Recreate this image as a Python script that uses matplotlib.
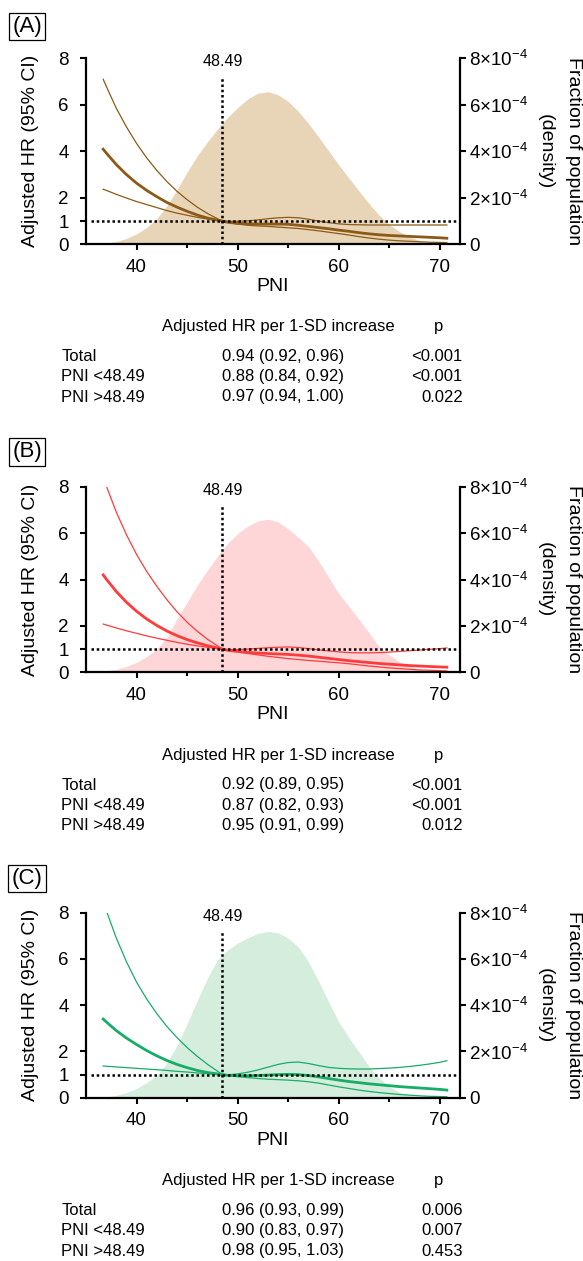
import matplotlib
matplotlib.use("Agg")
import matplotlib.pyplot as plt
from matplotlib.ticker import FixedLocator, FuncFormatter

plt.rcParams['font.family'] = ['Liberation Sans', 'DejaVu Sans']
plt.rcParams['mathtext.default'] = 'regular'

# spline curves (adjusted HR with 95% CI)
pni = [36.7, 37, 38, 39, 40, 41, 42, 43, 44, 45, 46, 47, 48, 48.49,
       49, 50, 51, 52, 53, 54, 55, 56, 57, 58, 59, 60, 61, 62, 63, 64,
       65, 66, 67, 68, 69, 70, 70.7]

a_hr = [4.09, 3.93, 3.43, 3.0, 2.63, 2.32, 2.05, 1.8, 1.6, 1.42, 1.26, 1.13, 1.04, 1.0,
        0.95, 0.9, 0.88, 0.87, 0.87, 0.87, 0.86, 0.82, 0.77, 0.72, 0.67, 0.61, 0.56,
        0.5, 0.45, 0.41, 0.38, 0.36, 0.34, 0.32, 0.3, 0.28, 0.26]
a_hi = [7.1, 6.8, 5.85, 5.05, 4.34, 3.72, 3.18, 2.7, 2.28, 1.92, 1.6, 1.33, 1.1, 1.0,
        0.99, 0.99, 1.01, 1.05, 1.1, 1.14, 1.16, 1.14, 1.08, 1.0, 0.93, 0.88, 0.85,
        0.84, 0.83, 0.83, 0.83, 0.83, 0.83, 0.83, 0.83, 0.83, 0.83]
a_lo = [2.37, 2.32, 2.15, 1.99, 1.84, 1.71, 1.58, 1.45, 1.34, 1.25, 1.16, 1.09, 1.03, 1.0,
        0.95, 0.87, 0.82, 0.79, 0.77, 0.74, 0.71, 0.68, 0.63, 0.58, 0.52, 0.46, 0.4,
        0.33, 0.27, 0.22, 0.18, 0.15, 0.13, 0.11, 0.09, 0.08, 0.07]

b_hr = [4.2, 4.02, 3.48, 3.02, 2.63, 2.3, 2.02, 1.78, 1.58, 1.41, 1.27, 1.15, 1.05, 1.0,
        0.95, 0.9, 0.86, 0.83, 0.81, 0.79, 0.77, 0.74, 0.7, 0.65, 0.6, 0.55, 0.5,
        0.46, 0.42, 0.38, 0.35, 0.32, 0.29, 0.27, 0.25, 0.23, 0.22]
b_hi = [8.4, 8.04, 6.9, 5.93, 5.08, 4.35, 3.71, 3.13, 2.61, 2.16, 1.77, 1.43, 1.14, 1.0,
        0.98, 0.98, 1.0, 1.03, 1.06, 1.08, 1.09, 1.07, 1.02, 0.97, 0.92, 0.88, 0.85,
        0.84, 0.84, 0.85, 0.87, 0.9, 0.93, 0.96, 0.99, 1.02, 1.05]
b_lo = [2.08, 2.04, 1.91, 1.79, 1.68, 1.57, 1.47, 1.38, 1.29, 1.21, 1.14, 1.08, 1.02, 1.0,
        0.95, 0.88, 0.81, 0.75, 0.69, 0.64, 0.59, 0.55, 0.51, 0.48, 0.44, 0.41, 0.37,
        0.32, 0.27, 0.23, 0.19, 0.16, 0.13, 0.1, 0.09, 0.07, 0.06]

c_hr = [3.4, 3.28, 2.9, 2.58, 2.3, 2.04, 1.81, 1.61, 1.44, 1.3, 1.18, 1.09, 1.03, 1.0,
        0.97, 0.95, 0.95, 0.96, 0.98, 1.0, 1.01, 1.0, 0.96, 0.9, 0.83, 0.76, 0.7,
        0.65, 0.6, 0.56, 0.52, 0.48, 0.45, 0.42, 0.39, 0.36, 0.33]
c_hi = [8.5, 8.1, 6.9, 5.88, 5.0, 4.27, 3.64, 3.08, 2.6, 2.17, 1.79, 1.45, 1.15, 1.0,
        0.99, 1.03, 1.1, 1.2, 1.32, 1.44, 1.52, 1.54, 1.48, 1.39, 1.31, 1.27, 1.25,
        1.24, 1.24, 1.26, 1.28, 1.31, 1.35, 1.4, 1.46, 1.53, 1.6]
c_lo = [1.37, 1.36, 1.33, 1.3, 1.27, 1.24, 1.21, 1.18, 1.14, 1.11, 1.07, 1.04, 1.01, 1.0,
        0.96, 0.91, 0.87, 0.83, 0.8, 0.78, 0.76, 0.73, 0.69, 0.63, 0.55, 0.47, 0.4,
        0.33, 0.27, 0.22, 0.18, 0.14, 0.11, 0.08, 0.06, 0.05, 0.04]

# population density (x1e-4)
dens_pni = [36.7, 37, 38, 39, 40, 41, 42, 43, 44, 45, 46, 47, 48, 49, 50, 51, 52, 53,
            54, 55, 56, 57, 58, 59, 60, 61, 62, 63, 64, 65, 66, 67, 68, 69, 69.5]
a_dens = [0.04, 0.05, 0.12, 0.25, 0.45, 0.72, 1.1, 1.65, 2.35, 3.1, 3.8, 4.4, 4.95, 5.45,
          5.88, 6.25, 6.5, 6.56, 6.43, 6.15, 5.72, 5.2, 4.62, 4.02, 3.42, 2.85, 2.3, 1.75,
          1.25, 0.85, 0.55, 0.32, 0.16, 0.05, 0.0]
b_dens = [0.05, 0.06, 0.13, 0.25, 0.43, 0.68, 1.0, 1.5, 2.3, 3.02, 3.75, 4.4, 5.0, 5.55,
          5.98, 6.3, 6.52, 6.6, 6.48, 6.18, 5.82, 5.42, 4.8, 4.1, 3.4, 2.85, 2.28, 1.7,
          1.1, 0.75, 0.46, 0.26, 0.12, 0.04, 0.0]
c_dens = [0.03, 0.04, 0.1, 0.22, 0.4, 0.65, 0.95, 1.5, 2.25, 3.2, 4.2, 5.15, 5.95, 6.38,
          6.68, 6.92, 7.1, 7.19, 7.13, 6.9, 6.52, 5.88, 5.05, 4.15, 3.28, 2.6, 1.98, 1.35,
          0.85, 0.48, 0.24, 0.1, 0.03, 0.01, 0.0]

cutoff = 48.49

# tables under each panel
row_labels = ["Total", "PNI <48.49", "PNI >48.49"]
a_rows = ["0.94 (0.92, 0.96)", "0.88 (0.84, 0.92)", "0.97 (0.94, 1.00)"]
a_p = ["<0.001", "<0.001", "0.022"]
b_rows = ["0.92 (0.89, 0.95)", "0.87 (0.82, 0.93)", "0.95 (0.91, 0.99)"]
b_p = ["<0.001", "<0.001", "0.012"]
c_rows = ["0.96 (0.93, 0.99)", "0.90 (0.83, 0.97)", "0.98 (0.95, 1.03)"]
c_p = ["0.006", "0.007", "0.453"]

panels = [
    ("(A)", a_hr, a_lo, a_hi, a_dens, a_rows, a_p, "#8C5A16", "#E8D5B8"),
    ("(B)", b_hr, b_lo, b_hi, b_dens, b_rows, b_p, "#FF3B3B", "#FFD6D7"),
    ("(C)", c_hr, c_lo, c_hi, c_dens, c_rows, c_p, "#17AD66", "#D4EDDD"),
]

W, H = 583, 1261
fig = plt.figure(figsize=(W / 100, H / 100), dpi=100)

# layout in pixels (top of axes, bottom of axes, label box centre, table header)
ax_top = [58.3, 486.7, 912.7]
ax_bot = [244.3, 672.3, 1097.7]
box_y = [26.4, 451.7, 878.4]
tab_y = [326.7, 755.5, 1180.7]
ax_left, ax_right = 86, 460

def fx(x):
    return x / W

def fy(y):
    return 1 - y / H

dot = (0, (1, 1.1))

for i, (tag, hr, lo, hi, dens, rows, pv, col, fillc) in enumerate(panels):
    ax = fig.add_axes([fx(ax_left), fy(ax_bot[i]), (ax_right - ax_left) / W,
                       (ax_bot[i] - ax_top[i]) / H])
    ax2 = ax.twinx()
    ax.set_zorder(ax2.get_zorder() + 1)
    ax.patch.set_visible(False)

    ax2.fill_between(dens_pni, [d * 1e-4 for d in dens], color=fillc, lw=0)
    ax2.set_ylim(0, 8e-4)

    ax.plot(pni, hi, color=col, lw=0.9)
    ax.plot(pni, lo, color=col, lw=0.9)
    ax.plot(pni, hr, color=col, lw=2.0)
    ax.plot([35.5, 72], [1, 1], color="black", lw=1.8, ls=dot, clip_on=False)
    ax.plot([cutoff, cutoff], [0, 7.15], color="black", lw=1.8, ls=dot)
    ax.text(cutoff, 7.85, "48.49", ha="center", va="center", fontsize=11.5)

    ax.set_xlim(35, 72)
    ax.set_ylim(0, 8)
    ax.set_xticks([40, 50, 60, 70])
    ax.xaxis.set_minor_locator(FixedLocator([45, 55, 65]))
    ax.set_yticks([0, 1, 2, 4, 6, 8])
    ax.tick_params(axis="y", labelsize=13.5, pad=8, length=4.5, width=1.5)
    ax.tick_params(axis="x", which="major", labelsize=13.5, pad=6, length=4.5, width=1.5)
    ax.tick_params(axis="x", which="minor", length=3, width=1.5)

    ax2.set_yticks([0, 2e-4, 4e-4, 6e-4, 8e-4])
    ax2.yaxis.set_major_formatter(FuncFormatter(
        lambda v, p: "0" if v == 0 else r"$%d{\times}10^{-4}$" % round(v * 1e4)))
    ax2.tick_params(axis="y", labelsize=13.5, pad=2.5, length=4, width=1.5)

    for s in ["top", "right"]:
        ax.spines[s].set_visible(False)
    for s in ["top", "left", "bottom"]:
        ax2.spines[s].set_visible(False)
    for sp in [ax.spines["left"], ax.spines["bottom"], ax2.spines["right"]]:
        sp.set_linewidth(1.6)

    # axis titles
    mid = (ax_top[i] + ax_bot[i]) / 2
    fig.text(fx(273), fy(ax_bot[i] + 42.4), "PNI", ha="center", va="center", fontsize=14)
    fig.text(fx(30.5), fy(mid), "Adjusted HR (95% CI)", rotation=90,
             ha="center", va="center", fontsize=14)
    fig.text(fx(573.7), fy(mid), "Fraction of population", rotation=270,
             ha="center", va="center", fontsize=14)
    fig.text(fx(545.7), fy(mid), "(density)", rotation=270,
             ha="center", va="center", fontsize=14)

    # panel tag
    fig.text(fx(27.2), fy(box_y[i]), tag, ha="center", va="center", fontsize=16,
             bbox=dict(boxstyle="square,pad=0.15", fc="none", ec="black", lw=0.9))

    # table
    ty = tab_y[i]
    fig.text(fx(278.5), fy(ty), "Adjusted HR per 1-SD increase", ha="center",
             va="center", fontsize=12)
    fig.text(fx(438.7), fy(ty), "p", ha="center", va="center", fontsize=12)
    for k, dy in enumerate([29.5, 49.8, 70.3]):
        fig.text(fx(61.3), fy(ty + dy), row_labels[k], ha="left", va="center", fontsize=12)
        fig.text(fx(222), fy(ty + dy), rows[k], ha="left", va="center", fontsize=12)
        fig.text(fx(462.8), fy(ty + dy), pv[k], ha="right", va="center", fontsize=12)

fig.savefig("out.png", dpi=100)
